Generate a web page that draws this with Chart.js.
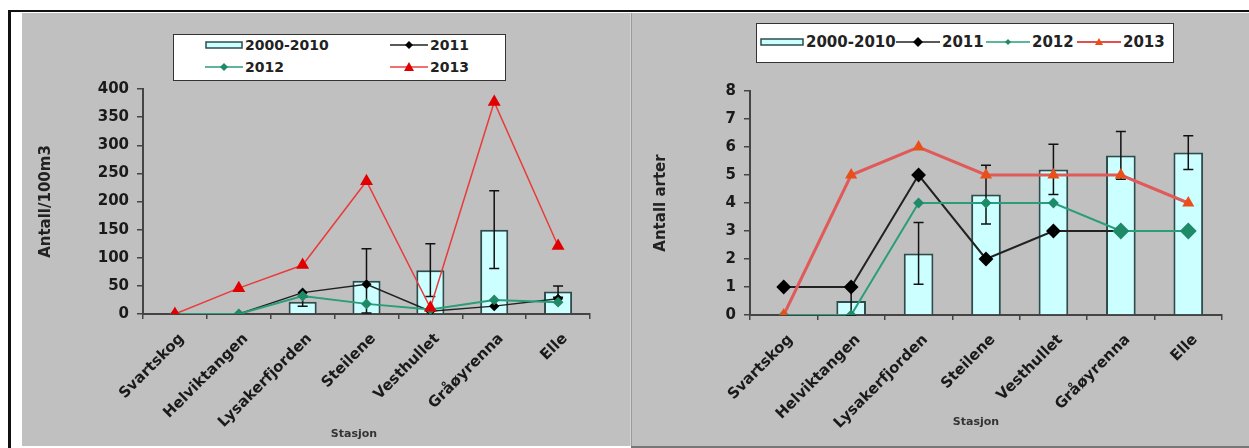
<!DOCTYPE html>
<html><head><meta charset="utf-8">
<script src="https://cdn.jsdelivr.net/npm/chart.js@4/dist/chart.umd.min.js"></script>
<style>
html,body{margin:0;padding:0;background:#fff;width:1249px;height:448px;overflow:hidden;position:relative;font-family:"DejaVu Sans",sans-serif;}
.fr{position:absolute;background:#111;}
.panel{position:absolute;background:#c0c0c0;}
#p1{left:22px;top:13px;width:608px;height:433px;}
#p2{left:631px;top:13px;width:618px;height:434px;}
.panel canvas{position:absolute;left:0;top:0;}
.leg{position:absolute;background:#fff;border:1.5px solid #333;box-sizing:border-box;font-weight:bold;color:#222;}
.it{position:absolute;display:flex;align-items:center;white-space:nowrap;}
.it svg{display:block;margin-right:2px;}
.xt{position:absolute;font-weight:bold;font-size:11px;color:#333;transform:translateX(-50%);}
</style></head>
<body>
<div class="fr" style="left:8px;top:10px;width:1241px;height:2px;"></div>
<div class="fr" style="left:8px;top:10px;width:3px;height:438px;"></div>
<div class="panel" id="p1"><canvas id="c1"></canvas></div>
<div style="position:absolute;left:630px;top:13px;width:1px;height:433px;background:#d4d4d4"></div>
<div class="panel" id="p2"><canvas id="c2"></canvas></div>
<div style="position:absolute;left:631px;top:13px;width:1px;height:435px;background:#9a9a9a"></div>
<div style="position:absolute;left:631px;top:446px;width:618px;height:2px;background:#777"></div>

<div class="leg" style="left:173px;top:34px;width:333px;height:47px;font-size:14px;">
  <div class="it" style="left:31px;top:2px;"><svg width="38" height="16"><rect x="1" y="5" width="36" height="6" fill="#ccffff" stroke="#2d4d4d" stroke-width="1.5"/></svg>2000-2010</div>
  <div class="it" style="left:216px;top:2px;"><svg width="38" height="16"><line x1="0" y1="8" x2="38" y2="8" stroke="#222" stroke-width="1.5"/><polygon points="19,4 23,8 19,12 15,8" fill="#000"/></svg>2011</div>
  <div class="it" style="left:31px;top:24px;"><svg width="38" height="16"><line x1="0" y1="8" x2="38" y2="8" stroke="#2a9d7a" stroke-width="1.5"/><polygon points="19,4 23,8 19,12 15,8" fill="#1f8a68"/></svg>2012</div>
  <div class="it" style="left:216px;top:24px;"><svg width="38" height="16"><line x1="0" y1="8" x2="38" y2="8" stroke="#e84040" stroke-width="1.5"/><polygon points="19,3 24,12 14,12" fill="#e00000"/></svg>2013</div>
</div>

<div class="leg" style="left:756px;top:23px;width:418px;height:40px;font-size:15px;">
  <div class="it" style="left:3px;top:9px;"><svg width="44" height="18"><rect x="1" y="6" width="42" height="6" fill="#ccffff" stroke="#2d4d4d" stroke-width="1.5"/></svg>2000-2010</div>
  <div class="it" style="left:139px;top:9px;"><svg width="44" height="18"><line x1="0" y1="9" x2="44" y2="9" stroke="#222" stroke-width="1.5"/><polygon points="22,4 27,9 22,14 17,9" fill="#000"/></svg>2011</div>
  <div class="it" style="left:229px;top:9px;"><svg width="44" height="18"><line x1="0" y1="9" x2="44" y2="9" stroke="#2a9d7a" stroke-width="1.5"/><polygon points="22,6 25,9 22,12 19,9" fill="#1f8a68"/></svg>2012</div>
  <div class="it" style="left:320px;top:9px;"><svg width="44" height="18"><line x1="0" y1="9" x2="44" y2="9" stroke="#e05050" stroke-width="2"/><polygon points="22,5 26,12 18,12" fill="#e8501a"/></svg>2013</div>
</div>

<div class="xt" style="left:354px;top:427px;">Stasjon</div>
<div class="xt" style="left:976px;top:415px;">Stasjon</div>

<script>
// ---- data ----
const stations = ['Svartskog','Helviktangen','Lysakerfjorden','Steilene','Vesthullet','Gråøyrenna','Elle'];
const legendLabels = ['2000-2010','2011','2012','2013'];

// Left chart: Antall/100m3
const densMean = [0, 0, 22, 59, 78, 150, 40];
const densErr  = [0, 0, 8, 57, 47, 69, 10];
const dens2011 = [0, 0, 38, 53, 5, 14, 27];
const dens2012 = [0, 0, 32, 18, 8, 25, 21];
const dens2013 = [0, 46, 87, 236, 11, 377, 121];
const densTicks = {min:0, max:400, step:50};

// Right chart: Antall arter
const artMean = [0, 0.5, 2.2, 4.3, 5.2, 5.7, 5.8];
const artErr  = [0, 0.5, 1.1, 1.05, 0.9, 0.85, 0.6];
const art2011 = [1, 1, 5, 2, 3, 3, 3];
const art2012 = [0, 0, 4, 4, 4, 3, 3];
const art2013 = [0, 5, 6, 5, 5, 5, 4];
const artTicks = {min:0, max:8, step:1};

Chart.defaults.font.family = "'DejaVu Sans', sans-serif";
Chart.defaults.animation = false;

const errorBars = {
  id:'errorBars',
  afterDatasetDraw(chart, args){
    const ds = chart.data.datasets[args.index];
    if(!ds.errors) return;
    const ctx = chart.ctx, ys = chart.scales.y;
    ctx.save(); ctx.strokeStyle = '#111'; ctx.lineWidth = 1.5;
    args.meta.data.forEach((el, i) => {
      const e = ds.errors[i]; if(!e) return;
      const v = ds.data[i];
      const x = el.x, yt = ys.getPixelForValue(v + e), yb = ys.getPixelForValue(Math.max(0, v - e));
      ctx.beginPath();
      ctx.moveTo(x, yt); ctx.lineTo(x, yb);
      ctx.moveTo(x - 5, yt); ctx.lineTo(x + 5, yt);
      ctx.moveTo(x - 5, yb); ctx.lineTo(x + 5, yb);
      ctx.stroke();
    });
    ctx.restore();
  }
};

function makeChart(id, cfg){
  return new Chart(document.getElementById(id), {
    data: {
      labels: stations,
      datasets: [
        {type:'bar', label:legendLabels[0], data:cfg.mean, errors:cfg.err, backgroundColor:'#ccffff', borderColor:'#2d4d4d', borderWidth:2, order:10, categoryPercentage:1, barPercentage:0.44},
        {type:'line', label:legendLabels[1], data:cfg.y11, borderColor:'#222', borderWidth:cfg.lw11, pointStyle:'rectRot', pointRadius:cfg.r11, pointBackgroundColor:'#000', pointBorderColor:'#000', order:3},
        {type:'line', label:legendLabels[2], data:cfg.y12, borderColor:'#2a9d7a', borderWidth:cfg.lw12, pointStyle:'rectRot', pointRadius:cfg.r12, pointBackgroundColor:'#1f8a68', pointBorderColor:'#1f8a68', order:2},
        {type:'line', label:legendLabels[3], data:cfg.y13, borderColor:cfg.c13, borderWidth:cfg.lw13, pointStyle:'triangle', pointRadius:cfg.r13, pointBackgroundColor:cfg.m13, pointBorderColor:cfg.m13, order:1}
      ]
    },
    options: {
      responsive:true, maintainAspectRatio:false,
      layout:{padding:{top:cfg.padTop, right:cfg.padRight, left:0, bottom:0}},
      plugins:{legend:{display:false}, tooltip:{enabled:false}},
      scales:{
        x:{type:'category', offset:true,
           grid:{offset:true, drawOnChartArea:false, tickLength:5, color:'#444', lineWidth:1.5},
           border:{color:'#444', width:2},
           ticks:{maxRotation:45, minRotation:45, autoSkip:false, padding:11, labelOffset:7, color:'#1a1a1a', font:{size:15, weight:'bold'}},
           afterFit(s){ s.height = 132; }},
        y:{min:cfg.ticks.min, max:cfg.ticks.max,
           grid:{drawOnChartArea:false, tickLength:6, color:'#444', lineWidth:1.5},
           border:{color:'#444', width:2},
           ticks:{stepSize:cfg.ticks.step, padding:8, color:'#1a1a1a', font:{size:15, weight:'bold'}},
           title:{display:true, text:cfg.yTitle, color:'#222', font:{size:15, weight:'bold'}, padding:{top:cfg.titlePad, bottom:0}},
           afterFit(s){ s.width = cfg.yWidth; }}
      }
    },
    plugins:[errorBars]
  });
}

makeChart('c1', {mean:densMean, err:densErr, y11:dens2011, y12:dens2012, y13:dens2013, ticks:densTicks,
  yTitle:'Antall/100m3', padTop:76, padRight:40, yWidth:121, titlePad:15,
  lw11:1.5, lw12:2, lw13:1.5, r11:4, r12:4, r13:6, c13:'#e83c3c', m13:'#e00000'});
makeChart('c2', {mean:artMean, err:artErr, y11:art2011, y12:art2012, y13:art2013, ticks:artTicks,
  yTitle:'Antall arter', padTop:78, padRight:27, yWidth:119, titlePad:21,
  lw11:2, lw12:2, lw13:3, r11:6, r12:[4,4,4,4,4,7,7], r13:4, c13:'#e05a5a', m13:'#e8501a'});
</script>
</body></html>
